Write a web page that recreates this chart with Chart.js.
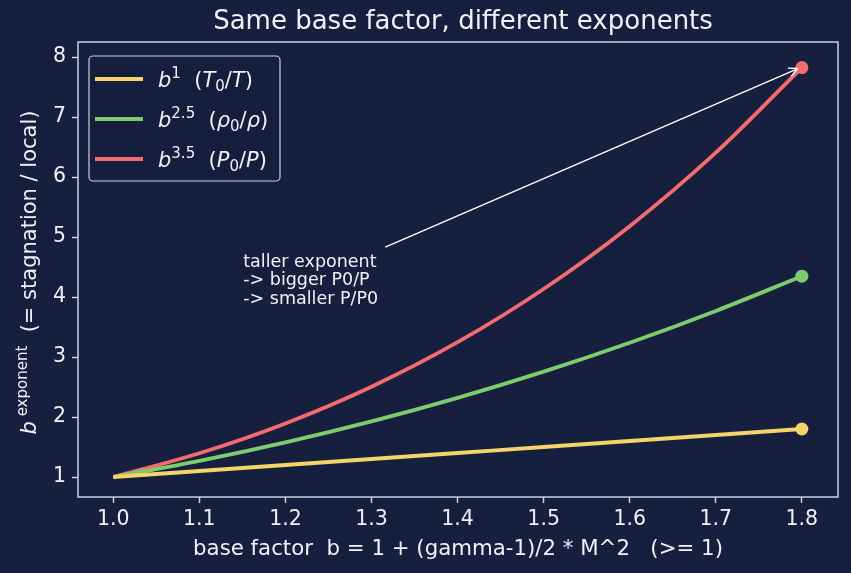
<!DOCTYPE html>
<html lang="en">
<head>
<meta charset="UTF-8">
<title>Same base factor, different exponents</title>
<script src="https://cdn.jsdelivr.net/npm/chart.js@4.4.4/dist/chart.umd.min.js"></script>
<style>
  html, body { margin: 0; padding: 0; background: #161f3d; }
  #wrap { width: 851px; height: 573px; position: relative; }
</style>
</head>
<body>
<div id="wrap"><canvas id="chart" width="851" height="573"></canvas></div>
<script>
// Values
const BASE_FACTOR = [1.0, 1.1, 1.2, 1.3, 1.4, 1.5, 1.6, 1.7, 1.8];
const POW_1 = [1.0, 1.1, 1.2, 1.3, 1.4, 1.5, 1.6, 1.7, 1.8];
const POW_2_5 = [1.0, 1.269, 1.577, 1.927, 2.319, 2.756, 3.238, 3.768, 4.347];
const POW_3_5 = [1.0, 1.396, 1.893, 2.505, 3.247, 4.134, 5.181, 6.406, 7.824];
const X_TICKS = [1.0, 1.1, 1.2, 1.3, 1.4, 1.5, 1.6, 1.7, 1.8];
const Y_TICKS = [1, 2, 3, 4, 5, 6, 7, 8];

const BG = '#161f3d';
const FG = '#eef2f8';
const SPINE = '#c9d1e3';
const FONT = '"DejaVu Sans", sans-serif';

const SERIES = [
    { values: POW_1, color: '#f5d46a' },
    { values: POW_2_5, color: '#7dcd6c' },
    { values: POW_3_5, color: '#f46b6e' },
];

// mathtext-ish legend labels: [text, style] where style is '', 'i', 'sup', 'sub'
const LEGEND_LABELS = [
    [['b', 'i'], ['1', 'sup'], ['  (', ''], ['T', 'i'], ['0', 'sub'], ['/', ''], ['T', 'i'], [')', '']],
    [['b', 'i'], ['2.5', 'sup'], ['  (', ''], ['\u03c1', 'i'], ['0', 'sub'], ['/', ''], ['\u03c1', 'i'], [')', '']],
    [['b', 'i'], ['3.5', 'sup'], ['  (', ''], ['P', 'i'], ['0', 'sub'], ['/', ''], ['P', 'i'], [')', '']],
];
const Y_TITLE = [['b', 'i'], [' exponent', 'sup'], ['  (= stagnation / local)', '']];

const NOTE_LINES = ['taller exponent', '-> bigger P0/P', '-> smaller P/P0'];

function toPoints(values) {
    return BASE_FACTOR.map((x, i) => ({ x, y: values[i] }));
}

function segFont(style, size) {
    if (style === 'i') return `oblique ${size}px ${FONT}`;
    if (style === 'sup' || style === 'sub') return `${Math.round(size * 0.7)}px ${FONT}`;
    return `${size}px ${FONT}`;
}

function segWidth(ctx, segs, size) {
    let w = 0;
    for (const [t, s] of segs) { ctx.font = segFont(s, size); w += ctx.measureText(t).width; }
    return w;
}

// draws along +x from (x, y) baseline; caller may rotate the context
function drawSegs(ctx, segs, x, y, size) {
    ctx.textBaseline = 'alphabetic';
    ctx.textAlign = 'left';
    for (const [t, s] of segs) {
        ctx.font = segFont(s, size);
        let dy = 0;
        if (s === 'sup') dy = -size * 0.42;
        if (s === 'sub') dy = size * 0.2;
        ctx.fillText(t, x, y + dy);
        x += ctx.measureText(t).width;
    }
}

const decorations = {
    id: 'decorations',
    beforeDraw(chart) {
        const ctx = chart.ctx;
        ctx.save();
        ctx.fillStyle = BG;
        ctx.fillRect(0, 0, chart.width, chart.height);
        ctx.restore();
    },
    afterDraw(chart) {
        const ctx = chart.ctx;
        const { left, right, top, bottom } = chart.chartArea;
        const xs = chart.scales.x, ys = chart.scales.y;
        ctx.save();

        // spines
        ctx.strokeStyle = SPINE;
        ctx.lineWidth = 1.5;
        ctx.strokeRect(left, top, right - left, bottom - top);

        // title
        ctx.fillStyle = FG;
        ctx.font = `26px ${FONT}`;
        ctx.textAlign = 'center';
        ctx.textBaseline = 'middle';
        ctx.fillText('Same base factor, different exponents', 463, 22);

        // x axis title
        ctx.font = `21.3px ${FONT}`;
        ctx.fillText('base factor  b = 1 + (gamma-1)/2 * M^2   (>= 1)', (left + right) / 2, 549);

        // y axis title, rotated
        const yw = segWidth(ctx, Y_TITLE, 21);
        ctx.save();
        ctx.translate(36, (top + bottom) / 2 + 3);
        ctx.rotate(-Math.PI / 2);
        drawSegs(ctx, Y_TITLE, -yw / 2, 0, 21);
        ctx.restore();

        // annotation arrow
        const hx = xs.getPixelForValue(BASE_FACTOR[8]) - 4;
        const hy = ys.getPixelForValue(POW_3_5[8]) + 1;
        const tx = xs.getPixelForValue(1.316);
        const ty = ys.getPixelForValue(4.83);
        ctx.strokeStyle = '#ffffff';
        ctx.lineWidth = 1.4;
        ctx.beginPath();
        ctx.moveTo(tx, ty);
        ctx.lineTo(hx, hy);
        const ang = Math.atan2(hy - ty, hx - tx);
        for (const d of [0.45, -0.45]) {
            ctx.moveTo(hx, hy);
            ctx.lineTo(hx - 10 * Math.cos(ang + d), hy - 10 * Math.sin(ang + d));
        }
        ctx.stroke();

        ctx.fillStyle = FG;
        ctx.font = `17.5px ${FONT}`;
        ctx.textAlign = 'left';
        ctx.textBaseline = 'middle';
        const nx = xs.getPixelForValue(1.151);
        NOTE_LINES.forEach((line, i) => ctx.fillText(line, nx, 262 + i * 18.5));

        // legend
        const lx = 89, ly = 56, lw = 191, lh = 125;
        ctx.beginPath();
        ctx.roundRect(lx, ly, lw, lh, 4);
        ctx.fillStyle = 'rgba(22,31,61,0.85)';
        ctx.fill();
        ctx.strokeStyle = SPINE;
        ctx.lineWidth = 1.2;
        ctx.stroke();
        SERIES.forEach((s, i) => {
            const rowY = 79 + i * 40;
            ctx.strokeStyle = s.color;
            ctx.lineWidth = 3.8;
            ctx.beginPath();
            ctx.moveTo(95, rowY);
            ctx.lineTo(143, rowY);
            ctx.stroke();
            ctx.fillStyle = FG;
            drawSegs(ctx, LEGEND_LABELS[i], 158, rowY + 8, 21);
        });

        ctx.restore();
    },
};

new Chart(document.getElementById('chart'), {
    type: 'line',
    data: {
        datasets: SERIES.map((s) => ({
            data: toPoints(s.values),
            borderColor: s.color,
            backgroundColor: s.color,
            borderWidth: 3.8,
            cubicInterpolationMode: 'monotone',
            pointRadius: s.values.map((v, i) => (i === s.values.length - 1 ? 6.5 : 0)),
            pointBorderWidth: 0,
            pointHoverRadius: 0,
        })),
    },
    options: {
        responsive: false,
        animation: false,
        events: [],
        layout: { padding: { left: 0, right: 13, top: 42, bottom: 0 } },
        plugins: { legend: { display: false }, title: { display: false }, tooltip: { enabled: false } },
        scales: {
            x: {
                type: 'linear',
                min: 0.959,
                max: 1.842,
                afterBuildTicks: (scale) => { scale.ticks = X_TICKS.map((v) => ({ value: v })); },
                afterFit: (scale) => { scale.height = 76; },
                grid: { display: true, drawOnChartArea: false, drawTicks: true, tickLength: 6, tickWidth: 1.5, tickColor: SPINE },
                border: { display: false },
                ticks: { color: FG, font: { family: FONT, size: 20.5 }, padding: 4, maxRotation: 0, callback: (v) => v.toFixed(1) },
            },
            y: {
                type: 'linear',
                min: 0.667,
                max: 8.25,
                afterBuildTicks: (scale) => { scale.ticks = Y_TICKS.map((v) => ({ value: v })); },
                afterFit: (scale) => { scale.width = 78; },
                grid: { display: true, drawOnChartArea: false, drawTicks: true, tickLength: 6, tickWidth: 1.5, tickColor: SPINE },
                border: { display: false },
                ticks: { color: FG, font: { family: FONT, size: 20.5 }, padding: 6, callback: (v) => String(v) },
            },
        },
    },
    plugins: [decorations],
});
</script>
</body>
</html>
